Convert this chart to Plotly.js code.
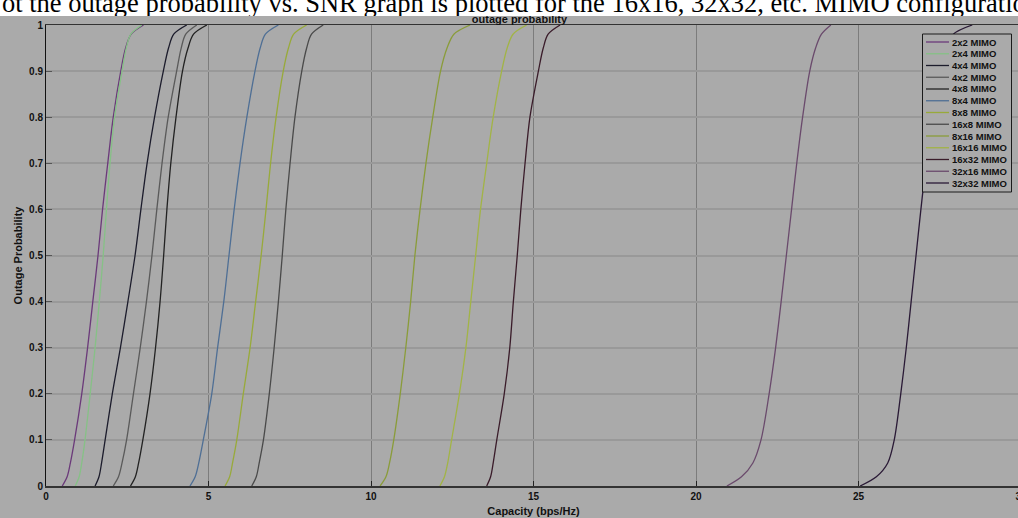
<!DOCTYPE html>
<html>
<head>
<meta charset="utf-8">
<script src="https://cdn.plot.ly/plotly-3.0.1.min.js"></script>
<style>
  html, body { margin:0; padding:0; background:#ffffff; overflow:hidden; width:1018px; height:518px; }
  #chart { position:absolute; left:0; top:0; width:1040px; height:518px; }
  #caption { position:absolute; left:0; top:0; width:1018px; height:16px; overflow:hidden; background:#ffffff; z-index:10; }
  #caption span { position:absolute; left:2px; top:-10px; white-space:nowrap; font-family:"Liberation Serif","DejaVu Serif",serif; font-size:26.5px; line-height:26.5px; color:#000; }
</style>
</head>
<body>
<div id="chart"></div>
<div id="caption"><span>ot the outage probability vs. SNR graph is plotted for the 16x16, 32x32, etc. MIMO configuration</span></div>
<script>
// Outage probability levels (CDF values) at which capacities were read
const probLevels = [0, 0.02, 0.05, 0.1, 0.2, 0.3, 0.4, 0.5, 0.6, 0.7, 0.8, 0.9, 0.95, 0.98, 1];

const seriesNames = ["2x2 MIMO","2x4 MIMO","4x4 MIMO","4x2 MIMO","4x8 MIMO","8x4 MIMO","8x8 MIMO",
                     "16x8 MIMO","8x16 MIMO","16x16 MIMO","16x32 MIMO","32x16 MIMO","32x32 MIMO"];

// Capacity (bps/Hz) at each probability level
const cap_2x2   = [0.50, 0.65, 0.75, 0.88, 1.10, 1.28, 1.44, 1.60, 1.74, 1.90, 2.07, 2.30, 2.45, 2.62, 3.00];
const cap_2x4   = [0.90, 1.02, 1.10, 1.20, 1.36, 1.51, 1.64, 1.76, 1.86, 1.97, 2.11, 2.34, 2.47, 2.61, 2.95];
const cap_4x4   = [1.51, 1.63, 1.71, 1.82, 2.04, 2.29, 2.52, 2.74, 2.92, 3.11, 3.34, 3.61, 3.77, 3.93, 4.33];
const cap_4x2   = [2.07, 2.23, 2.34, 2.48, 2.69, 2.90, 3.09, 3.26, 3.41, 3.57, 3.76, 4.02, 4.16, 4.30, 4.64];
const cap_4x8   = [2.60, 2.75, 2.85, 2.98, 3.20, 3.37, 3.51, 3.62, 3.72, 3.84, 4.00, 4.20, 4.37, 4.54, 4.95];
const cap_8x4   = [4.43, 4.59, 4.70, 4.84, 5.10, 5.28, 5.47, 5.63, 5.79, 5.97, 6.18, 6.43, 6.59, 6.75, 7.15];
const cap_8x8   = [5.51, 5.65, 5.74, 5.87, 6.07, 6.28, 6.45, 6.62, 6.77, 6.91, 7.08, 7.30, 7.46, 7.62, 8.02];
const cap_16x8  = [6.33, 6.47, 6.56, 6.69, 6.87, 7.02, 7.15, 7.27, 7.38, 7.51, 7.66, 7.87, 8.02, 8.17, 8.53];
const cap_8x16  = [10.28, 10.46, 10.57, 10.70, 10.90, 11.07, 11.22, 11.35, 11.51, 11.69, 11.90, 12.14, 12.34, 12.55, 13.05];
const cap_16x16 = [12.12, 12.26, 12.36, 12.48, 12.72, 12.92, 13.07, 13.22, 13.37, 13.56, 13.76, 14.02, 14.19, 14.37, 14.79];
const cap_16x32 = [13.56, 13.68, 13.76, 13.87, 14.10, 14.27, 14.38, 14.50, 14.61, 14.74, 14.89, 15.15, 15.30, 15.45, 15.82];
const cap_32x16 = [20.95, 21.40, 21.75, 22.00, 22.25, 22.45, 22.62, 22.78, 22.94, 23.10, 23.28, 23.50, 23.68, 23.86, 24.15];
const cap_32x32 = [25.05, 25.55, 25.90, 26.10, 26.30, 26.47, 26.62, 26.77, 26.92, 27.08, 27.28, 27.55, 27.72, 27.92, 28.50];

const capacities = [cap_2x2, cap_2x4, cap_4x4, cap_4x2, cap_4x8, cap_8x4, cap_8x8,
                    cap_16x8, cap_8x16, cap_16x16, cap_16x32, cap_32x16, cap_32x32];

const lineColors = ["#6b3a7a","#86c186","#1c1c2c","#5a5a5a","#222222","#4f6f95","#98aa3a",
                    "#4a4a4a","#8a9c3a","#a2b446","#3a1c2a","#6a4a6c","#2a1a36"];

const xTicks = [0, 5, 10, 15, 20, 25, 30];
const yTicks = [0, 0.1, 0.2, 0.3, 0.4, 0.5, 0.6, 0.7, 0.8, 0.9, 1];

// plot-area geometry (pixels) for the hand-built legend
const PL = 46, PW = 975, PT = 25, PH = 461;
const px = v => (v - PL) / PW;
const py = v => (PT + PH - v) / PH;

const traces = capacities.map((c, i) => ({
  type: 'scatter', mode: 'lines',
  x: c, y: probLevels, name: seriesNames[i],
  line: { color: lineColors[i], width: 1.3, shape: 'spline', smoothing: 0.9 },
  showlegend: false, hoverinfo: 'skip'
}));

const shapes = [];
const annotations = [];
// legend box
shapes.push({ type:'rect', xref:'paper', yref:'paper', x0:px(922.5), x1:px(1011.5), y0:py(34), y1:py(192),
  fillcolor:'#aaaaaa', line:{ color:'#1a1a1a', width:1 }, layer:'above' });
seriesNames.forEach((n, i) => {
  const yy = 42 + i * 11.75;
  shapes.push({ type:'line', xref:'paper', yref:'paper', x0:px(926), x1:px(949), y0:py(yy), y1:py(yy),
    line:{ color: lineColors[i], width:1.3 }, layer:'above' });
  annotations.push({ xref:'paper', yref:'paper', x:px(950), y:py(yy), xanchor:'left', yanchor:'middle',
    text:n, showarrow:false, font:{ family:'Liberation Sans, Arial, sans-serif', size:9.5, color:'#111', weight:'bold' } });
});

const layout = {
  width: 1040, height: 518,
  margin: { l: PL, r: 1040 - PL - PW, t: PT, b: 518 - PT - PH },
  paper_bgcolor: '#aaaaaa', plot_bgcolor: '#aaaaaa',
  font: { family: 'Liberation Sans, Arial, sans-serif', color: '#111' },
  title: { text: 'outage probability', x: px(533), xanchor: 'center', y: 1 - 19.5/518, yanchor: 'middle',
           font: { size: 11, weight: 'bold', color: '#111' } },
  xaxis: {
    range: [0, 30], tickvals: xTicks, ticks: 'inside', ticklen: 5, tickcolor: '#222',
    showgrid: true, gridcolor: '#7c7c7c', gridwidth: 1, zeroline: false,
    showline: true, linecolor: '#333', linewidth: 1.5, mirror: true,
    tickfont: { size: 10, weight: 'bold', color: '#111' },
    title: { text: 'Capacity (bps/Hz)', standoff: 7, font: { size: 11, weight: 'bold', color: '#111' } }
  },
  yaxis: {
    range: [0, 1], tickvals: yTicks, ticks: 'inside', ticklen: 6, tickcolor: '#555',
    showgrid: true, gridcolor: '#999999', gridwidth: 2, zeroline: false,
    showline: true, linecolor: '#111', linewidth: 1, mirror: true,
    tickfont: { size: 10, weight: 'bold', color: '#111' },
    title: { text: 'Outage Probability', standoff: 4, font: { size: 11, weight: 'bold', color: '#111' } }
  },
  shapes: shapes,
  annotations: annotations
};

Plotly.newPlot('chart', traces, layout, { staticPlot: true, displayModeBar: false });
</script>
</body>
</html>
